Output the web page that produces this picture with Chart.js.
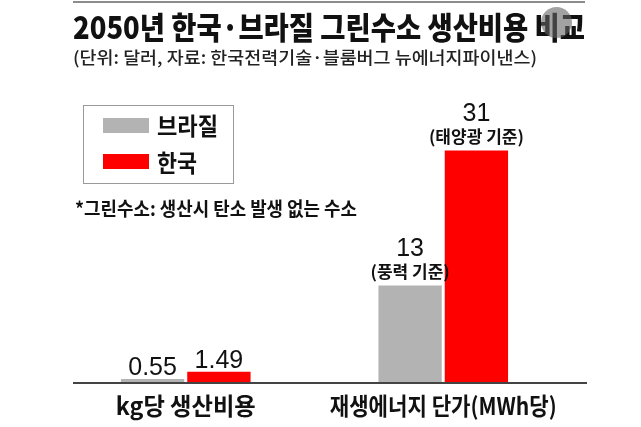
<!DOCTYPE html>
<html>
<head>
<meta charset="utf-8">
<script src="https://cdn.jsdelivr.net/npm/chart.js@4"></script>
<style>
  html, body { margin:0; padding:0; background:#ffffff; }
  #wrap { position:relative; width:641px; height:427px; overflow:hidden; background:#fff; }
  #c { position:absolute; left:0; top:0; }
  .t { position:absolute; white-space:nowrap; font-family:"Noto Sans CJK KR","Noto Sans",sans-serif; transform-origin:0 0; }
  #topline { position:absolute; left:73px; top:1px; width:512px; height:2px; background:#8c8c8c; }
  #legendBox { position:absolute; left:83px; top:105px; width:151px; height:79px; border:1.5px solid #9a9a9a; box-sizing:border-box; }
  .sw { position:absolute; width:46px; height:15px; }
  #circle { position:absolute; left:541px; top:7px; width:31px; height:31px; border-radius:50%; background:rgba(100,100,100,0.6); }
</style>
</head>
<body>
<div id="wrap">
  <canvas id="c" width="641" height="427"></canvas>
  <div id="topline"></div>
  <div class="t" id="title" style="left:73px;top:10px;font-size:31px;line-height:31px;font-weight:900;color:#111;" data-w="512">2050년 한국·브라질 그린수소 생산비용 비교</div>
  <div id="circle"></div>
  <div class="t" id="subtitle" style="left:73px;top:48px;font-size:17px;line-height:17px;font-weight:500;color:#222;" data-w="464">(단위: 달러, 자료: 한국전력기술·블룸버그 뉴에너지파이낸스)</div>
  <div id="legendBox"></div>
  <div class="t" id="note" style="left:75px;top:198px;font-size:19px;line-height:19px;font-weight:700;color:#111;" data-w="282">*그린수소: 생산시 탄소 발생 없는 수소</div>
</div>
<script>
// ---- data ----
const categories = ['kg당 생산비용', '재생에너지 단가(MWh당)'];
const seriesNames = ['브라질', '한국'];
const brazilValues = [0.55, 13];
const koreaValues = [1.49, 31];
const brazilNotes = ['', '(풍력 기준)'];
const koreaNotes = ['', '(태양광 기준)'];
const yMin = 0;
const yMax = 40;

// ---- styles ----
const seriesColors = ['#b3b3b3', '#ff0000'];
const catLabelWidths = [140, 227];

// legend (HTML) built from series names/colors
(function buildLegend(){
  const wrap = document.getElementById('wrap');
  const rows = [{swTop:118, txtTop:113}, {swTop:154, txtTop:150}];
  const widths = [61, 40];
  seriesNames.forEach((n, i) => {
    const sw = document.createElement('div');
    sw.className = 'sw';
    sw.style.left = '103px';
    sw.style.top = rows[i].swTop + 'px';
    sw.style.background = seriesColors[i];
    wrap.appendChild(sw);
    const t = document.createElement('div');
    t.className = 't';
    t.textContent = n;
    t.style.left = '157px';
    t.style.top = rows[i].txtTop + 'px';
    t.style.fontSize = '24px';
    t.style.lineHeight = '24px';
    t.style.fontWeight = '700';
    t.style.color = '#111';
    t.dataset.w = widths[i];
    wrap.appendChild(t);
  });
})();

function fitTexts(){
  document.querySelectorAll('.t[data-w]').forEach(el => {
    el.style.transform = 'none';
    const w = el.getBoundingClientRect().width;
    const target = parseFloat(el.dataset.w);
    if (w > 0) el.style.transform = 'scaleX(' + (target / w) + ')';
  });
}
fitTexts();
if (document.fonts && document.fonts.ready) document.fonts.ready.then(fitTexts);

const labelPlugin = {
  id: 'labelPlugin',
  afterDatasetsDraw(chart) {
    const ctx = chart.ctx;
    const xs = chart.scales.x, ys = chart.scales.y;
    const y0 = ys.getPixelForValue(0);
    ctx.save();
    // baseline axis
    ctx.strokeStyle = '#444';
    ctx.lineWidth = 2;
    ctx.beginPath();
    ctx.moveTo(73, y0);
    ctx.lineTo(587, y0);
    ctx.stroke();
    // category labels
    ctx.fillStyle = '#111';
    ctx.textAlign = 'center';
    ctx.textBaseline = 'alphabetic';
    ctx.font = '700 24px "Noto Sans CJK KR"';
    categories.forEach((c, i) => {
      const x = xs.getPixelForValue(i);
      ctx.fillText(c, x, y0 + 32, catLabelWidths[i]);
    });
    // value labels
    const numFont = '25px "Liberation Sans Narrow", "Liberation Sans"';
    chart.data.datasets.forEach((ds, di) => {
      const meta = chart.getDatasetMeta(di);
      meta.data.forEach((bar, i) => {
        const note = ds.notes[i];
        const val = String(ds.data[i]);
        ctx.fillStyle = '#111';
        if (note) {
          ctx.font = '700 17px "Noto Sans CJK KR"';
          ctx.fillText(note, bar.x, bar.y - 8);
          ctx.font = numFont;
          ctx.fillText(val, bar.x, bar.y - 30);
        } else {
          ctx.font = numFont;
          ctx.fillText(val, bar.x, bar.y - 4);
        }
      });
    });
    ctx.restore();
  }
};

new Chart(document.getElementById('c'), {
  type: 'bar',
  data: {
    labels: categories,
    datasets: [
      { label: seriesNames[0], data: brazilValues, notes: brazilNotes, backgroundColor: seriesColors[0], borderWidth: 0 },
      { label: seriesNames[1], data: koreaValues, notes: koreaNotes, backgroundColor: seriesColors[1], borderWidth: 0 }
    ]
  },
  options: {
    responsive: false,
    animation: false,
    devicePixelRatio: 1,
    layout: { padding: { left: 57, right: 69, top: 83, bottom: 44 } },
    datasets: { bar: { categoryPercentage: 0.515, barPercentage: 0.955 } },
    scales: {
      x: { display: false },
      y: { display: false, min: yMin, max: yMax }
    },
    plugins: { legend: { display: false }, tooltip: { enabled: false } }
  },
  plugins: [labelPlugin]
});
</script>
</body>
</html>
